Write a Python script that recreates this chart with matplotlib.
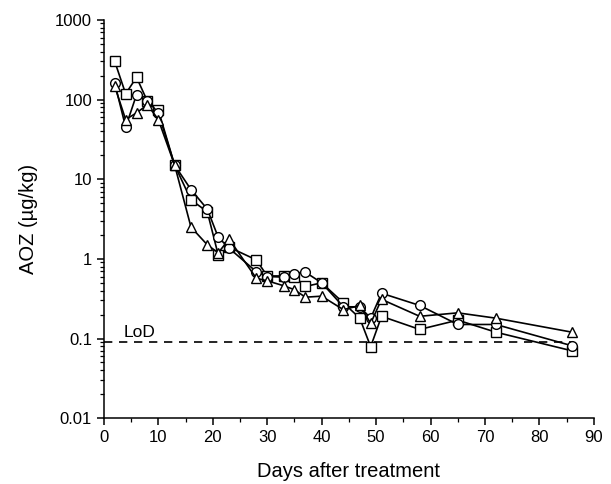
import matplotlib
matplotlib.use("Agg")
import matplotlib.pyplot as plt
from matplotlib.ticker import LogLocator, FixedLocator, MultipleLocator, NullFormatter

plt.rcParams['font.family'] = ['Liberation Sans', 'DejaVu Sans']

days = [2, 4, 6, 8, 10, 13, 16, 19, 21, 23, 28, 30, 33, 35, 37, 40, 44, 47, 49, 51, 58, 65, 72, 86]
square_vals = [300, 118, 190, 95, 74, 15, 5.5, 3.9, 1.12, 1.4, 0.97, 0.61, 0.61, 0.6, 0.45, 0.5,
               0.28, 0.18, 0.079, 0.19, 0.13, 0.17, 0.12, 0.07]
circle_vals = [160, 45, 115, 97, 68, 15, 7.4, 4.2, 1.87, 1.36, 0.69, 0.6, 0.59, 0.65, 0.68, 0.50,
               0.25, 0.25, 0.18, 0.37, 0.26, 0.15, 0.15, 0.081]
triangle_vals = [146, 56, 68, 86, 56, 15, 2.5, 1.5, 1.19, 1.77, 0.57, 0.53, 0.46, 0.41, 0.33, 0.34,
                 0.23, 0.26, 0.155, 0.31, 0.19, 0.21, 0.18, 0.12]
lod_value = 0.09
lod_range = [0, 86]
x_ticks = [0, 10, 20, 30, 40, 50, 60, 70, 80, 90]
y_ticks = [0.01, 0.1, 1, 10, 100, 1000]
y_labels = ['0.01', '0.1', '1', '10', '100', '1000']

fig = plt.figure(figsize=(6.11, 4.84), dpi=100)
ax = fig.add_axes([0.170, 0.136, 0.802, 0.823])

style = dict(color='black', lw=1.2, mfc='white', mec='black', mew=1.0, ms=7)
ax.plot(days, square_vals, marker='s', **style, zorder=3)
ax.plot(days, circle_vals, marker='o', **style, zorder=4)
ax.plot(days, triangle_vals, marker='^', **style, zorder=5)

ax.plot(lod_range, [lod_value, lod_value], color='black', lw=1.2, ls=(0, (5, 4)), zorder=2)
ax.text(3.7, 0.118, 'LoD', fontsize=12.5, ha='left', va='center')

ax.set_yscale('log')
ax.set_ylim(0.01, 1000)
ax.set_xlim(0, 90)
ax.yaxis.set_major_locator(FixedLocator(y_ticks))
ax.set_yticklabels(y_labels)
ax.yaxis.set_minor_locator(LogLocator(base=10, subs=range(2, 10), numticks=20))
ax.yaxis.set_minor_formatter(NullFormatter())
ax.xaxis.set_major_locator(FixedLocator(x_ticks))
ax.xaxis.set_minor_locator(MultipleLocator(5))

for s in ['top', 'right']:
    ax.spines[s].set_visible(False)
for s in ['left', 'bottom']:
    ax.spines[s].set_linewidth(1.1)

ax.tick_params(axis='both', which='major', direction='out', length=5, width=1.1, labelsize=12)
ax.tick_params(axis='both', which='minor', direction='out', length=3, width=0.9)

ax.set_xlabel('Days after treatment', fontsize=14.5, labelpad=12)
ax.set_ylabel('AOZ (µg/kg)', fontsize=14.5, labelpad=12)

fig.savefig('out.png', dpi=100)
